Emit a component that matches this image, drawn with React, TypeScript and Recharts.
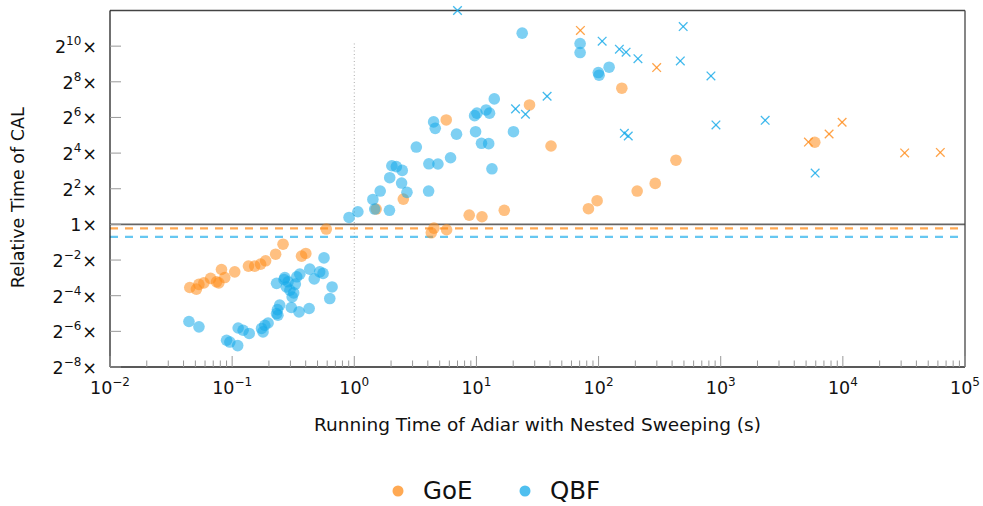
import React from "react";
import { ScatterChart, Scatter, XAxis, YAxis, ReferenceLine } from "recharts";

// [running time with nested sweeping (s), relative time of CAL]
const goeSolved: [number, number][] = [
  [0.045, 0.0859], [0.051, 0.0808], [0.0534, 0.0969], [0.0587, 0.103], [0.0666, 0.1224],
  [0.0745, 0.1073], [0.0778, 0.103], [0.0818, 0.1732], [0.087, 0.1267], [0.105, 0.158],
  [0.136, 0.1975], [0.153, 0.1975], [0.171, 0.2132], [0.188, 0.243], [0.227, 0.314],
  [0.261, 0.463], [0.37, 0.291], [0.401, 0.323], [0.59, 0.835], [1.51, 1.815],
  [2.52, 2.676], [4.27, 0.722], [4.49, 0.865], [5.7, 0.812], [5.66, 58.1],
  [8.73, 1.434], [11.1, 1.347], [16.9, 1.729], [27.2, 104], [40.8, 21.1],
  [82.6, 1.84], [97.3, 2.514], [155, 199.5], [207, 3.655], [291, 4.925],
  [430, 12.13], [5890, 24.4],
];

// CAL did not finish (time-out / memory-out)
const goeCalFailed: [number, number][] = [
  [71, 1885], [299, 445.7], [5227, 24.6], [7713, 33.6], [9860, 53.1],
  [32060, 16.1], [62800, 16.4],
];

const qbfSolved: [number, number][] = [
  [0.0443, 0.0229], [0.0535, 0.0186], [0.09, 0.01105], [0.0958, 0.0103], [0.111, 0.00898],
  [0.112, 0.0178], [0.123, 0.0163], [0.138, 0.0144], [0.174, 0.0175], [0.179, 0.0153],
  [0.185, 0.0198], [0.197, 0.0216], [0.231, 0.03125], [0.237, 0.0292], [0.235, 0.0364],
  [0.245, 0.0433], [0.231, 0.101], [0.266, 0.1175], [0.27, 0.1267], [0.287, 0.1073],
  [0.278, 0.0878], [0.297, 0.0775], [0.319, 0.0698], [0.31, 0.0595], [0.305, 0.0395],
  [0.338, 0.1303], [0.358, 0.1446], [0.329, 0.0981], [0.353, 0.0333], [0.427, 0.038],
  [0.432, 0.1756], [0.47, 0.12], [0.521, 0.158], [0.555, 0.1487], [0.565, 0.2717],
  [0.658, 0.0878], [0.63, 0.0559], [0.906, 1.31], [1.07, 1.636], [1.42, 2.639],
  [1.47, 1.815], [1.63, 3.655], [1.94, 1.729], [1.95, 6.15], [2.03, 9.78],
  [2.21, 9.45], [2.47, 8.17], [2.44, 4.99], [2.7, 3.48], [3.22, 20.25],
  [4.06, 3.655], [4.08, 10.56], [4.84, 10.48], [4.46, 53.8], [4.6, 41.9],
  [6.14, 13.36], [6.87, 33.4], [9.66, 68.6], [10.1, 75.6], [9.84, 36.8],
  [11.0, 23.4], [12.0, 85.6], [12.8, 75.6], [12.6, 23.1], [13.4, 8.69],
  [14.0, 131.6], [20.1, 36.8], [23.7, 1699], [70.6, 1136], [70.6, 798],
  [99.5, 367], [101, 331], [122, 452],
];

const qbfCalFailed: [number, number][] = [
  [7, 4096], [20.9, 89.3], [25.2, 72.5], [37.9, 146], [107, 1243],
  [148, 910], [168, 809], [210, 630], [162.6, 34.5], [175, 31.1],
  [467, 576], [493, 2195], [832, 322], [914, 47.8], [2312, 57.3], [5930, 7.36],
];

// geometric means (dashed lines)
const goeGeoMean = 0.855;
const qbfGeoMean = 0.616;

const xDecades = [-2, -1, 0, 1, 2, 3, 4, 5];
const xMinorSteps = [2, 3, 4, 5, 6, 7, 8, 9];
const yPowers = [-8, -6, -4, -2, 0, 2, 4, 6, 8, 10];

const ORANGE = "#ff8c1a";
const BLUE = "#14a9e9";
const FONT = "'DejaVu Sans', sans-serif";

const toPoints = (rows: [number, number][]) => rows.map(([x, y]) => ({ x, y }));

const xTicks: number[] = [];
xDecades.forEach((d, i) => {
  xTicks.push(10 ** d);
  if (i < xDecades.length - 1) xMinorSteps.forEach((m) => xTicks.push(m * 10 ** d));
});
const yTicks = yPowers.map((p) => 2 ** p);

const expText = (e: number) => (e < 0 ? "\u2212" + Math.abs(e) : String(e));
const isDecade = (v: number) => {
  const l = Math.log10(v);
  return Math.abs(l - Math.round(l)) < 1e-6;
};

function BottomTick({ x, y, payload }: any) {
  const major = isDecade(payload.value);
  const e = Math.round(Math.log10(payload.value));
  return (
    <g>
      <line x1={x} x2={x} y1={y} y2={y - (major ? 11 : 6.5)} stroke="#999" strokeWidth={1} />
      {major && (
        <text x={x} y={y + 27} textAnchor="middle" fontSize={17.5} fill="#111" fontFamily={FONT}>
          10
          <tspan dy={-8} fontSize={12}>{expText(e)}</tspan>
        </text>
      )}
    </g>
  );
}

function TopTick({ x, y, payload }: any) {
  const major = isDecade(payload.value);
  return <line x1={x} x2={x} y1={y} y2={y + (major ? 11 : 6.5)} stroke="#999" strokeWidth={1} />;
}

function LeftTick({ x, y, payload }: any) {
  const e = Math.round(Math.log2(payload.value));
  return (
    <g>
      <line x1={x} x2={x + 11} y1={y} y2={y} stroke="#999" strokeWidth={1} />
      <text x={x - 13} y={y + 7} textAnchor="end" fontSize={17.5} fill="#111" fontFamily={FONT}>
        {e === 0 ? "1" : "2"}
        {e !== 0 && <tspan dy={-8} fontSize={12}>{expText(e)}</tspan>}
        <tspan dy={e !== 0 ? 8 : 0} dx={1}>×</tspan>
      </text>
    </g>
  );
}

function RightTick({ x, y }: any) {
  return <line x1={x} x2={x - 11} y1={y} y2={y} stroke="#999" strokeWidth={1} />;
}

function YLabel({ viewBox }: any) {
  const cx = viewBox.x + 18;
  const cy = viewBox.y + viewBox.height / 2 + 9;
  return (
    <text
      x={cx}
      y={cy}
      transform={`rotate(-90, ${cx}, ${cy})`}
      textAnchor="middle"
      dominantBaseline="central"
      fontSize={17.5}
      fill="#111"
      fontFamily={FONT}
    >
      Relative Time of CAL
    </text>
  );
}

const dot = (color: string) => (p: any) => (
  <circle cx={p.cx} cy={p.cy} r={5.8} fill={color} fillOpacity={0.55} />
);

const cross = (color: string) => (p: any) => (
  <g stroke={color} strokeOpacity={0.8} strokeWidth={1.3}>
    <line x1={p.cx - 4.3} y1={p.cy - 4.3} x2={p.cx + 4.3} y2={p.cy + 4.3} />
    <line x1={p.cx - 4.3} y1={p.cy + 4.3} x2={p.cx + 4.3} y2={p.cy - 4.3} />
  </g>
);

const legendItems = [
  { name: "GoE", color: ORANGE },
  { name: "QBF", color: BLUE },
];

export default function App() {
  return (
    <div style={{ position: "absolute", left: 0, top: 0, width: 983, height: 506, background: "#fff", fontFamily: FONT }}>
      <ScatterChart width={983} height={506} margin={{ top: 2.5, right: 10, bottom: 99, left: 0 }}>
        <XAxis
          dataKey="x"
          type="number"
          scale="log"
          domain={[0.01, 100000]}
          ticks={xTicks}
          interval={0}
          tickSize={0}
          tickMargin={0}
          tick={<BottomTick />}
          axisLine={{ stroke: "#222", strokeWidth: 1.3 }}
          height={40}
          label={{
            value: "Running Time of Adiar with Nested Sweeping (s)",
            position: "bottom",
            offset: 11,
            style: { fontSize: 18.5, fill: "#111", fontFamily: FONT },
          }}
        />
        <XAxis
          xAxisId="top"
          orientation="top"
          type="number"
          scale="log"
          domain={[0.01, 100000]}
          ticks={xTicks}
          interval={0}
          tickSize={0}
          tickMargin={0}
          tick={<TopTick />}
          axisLine={{ stroke: "#444", strokeWidth: 1.3 }}
          height={8}
        />
        <YAxis
          dataKey="y"
          type="number"
          scale="log"
          domain={[2 ** -8, 2 ** 12]}
          ticks={yTicks}
          interval={0}
          tickSize={0}
          tickMargin={0}
          tick={<LeftTick />}
          axisLine={{ stroke: "#222", strokeWidth: 1.3 }}
          width={110}
          label={<YLabel />}
        />
        <YAxis
          yAxisId="right"
          orientation="right"
          type="number"
          scale="log"
          domain={[2 ** -8, 2 ** 12]}
          ticks={yTicks}
          interval={0}
          tickSize={0}
          tickMargin={0}
          tick={<RightTick />}
          axisLine={{ stroke: "#444", strokeWidth: 1.3 }}
          width={8}
        />

        <ReferenceLine
          segment={[{ x: 1, y: 2 ** -6.4 }, { x: 1, y: 2 ** 10.2 }]}
          stroke="#aaa"
          strokeDasharray="1 2.5"
        />
        <ReferenceLine y={1} stroke="#666" strokeWidth={1.8} />
        <ReferenceLine y={goeGeoMean} stroke={ORANGE} strokeOpacity={0.75} strokeWidth={2.2} strokeDasharray="8 7" />
        <ReferenceLine y={qbfGeoMean} stroke={BLUE} strokeOpacity={0.65} strokeWidth={2.2} strokeDasharray="8 7" />

        <Scatter name="GoE" data={toPoints(goeSolved)} shape={dot(ORANGE)} isAnimationActive={false} />
        <Scatter name="QBF" data={toPoints(qbfSolved)} shape={dot(BLUE)} isAnimationActive={false} />
        <Scatter name="GoE (CAL failed)" data={toPoints(goeCalFailed)} shape={cross(ORANGE)} isAnimationActive={false} />
        <Scatter name="QBF (CAL failed)" data={toPoints(qbfCalFailed)} shape={cross(BLUE)} isAnimationActive={false} />
      </ScatterChart>

      <svg style={{ position: "absolute", left: 380, top: 468, overflow: "visible" }} width={240} height={36}>
        {legendItems.map((it, i) => (
          <g key={it.name} transform={`translate(${i * 127}, 0)`}>
            <circle cx={18} cy={23} r={5.5} fill={it.color} fillOpacity={0.75} />
            <text x={43} y={31} fontSize={24.5} fill="#111" fontFamily={FONT}>
              {it.name}
            </text>
          </g>
        ))}
      </svg>
    </div>
  );
}
